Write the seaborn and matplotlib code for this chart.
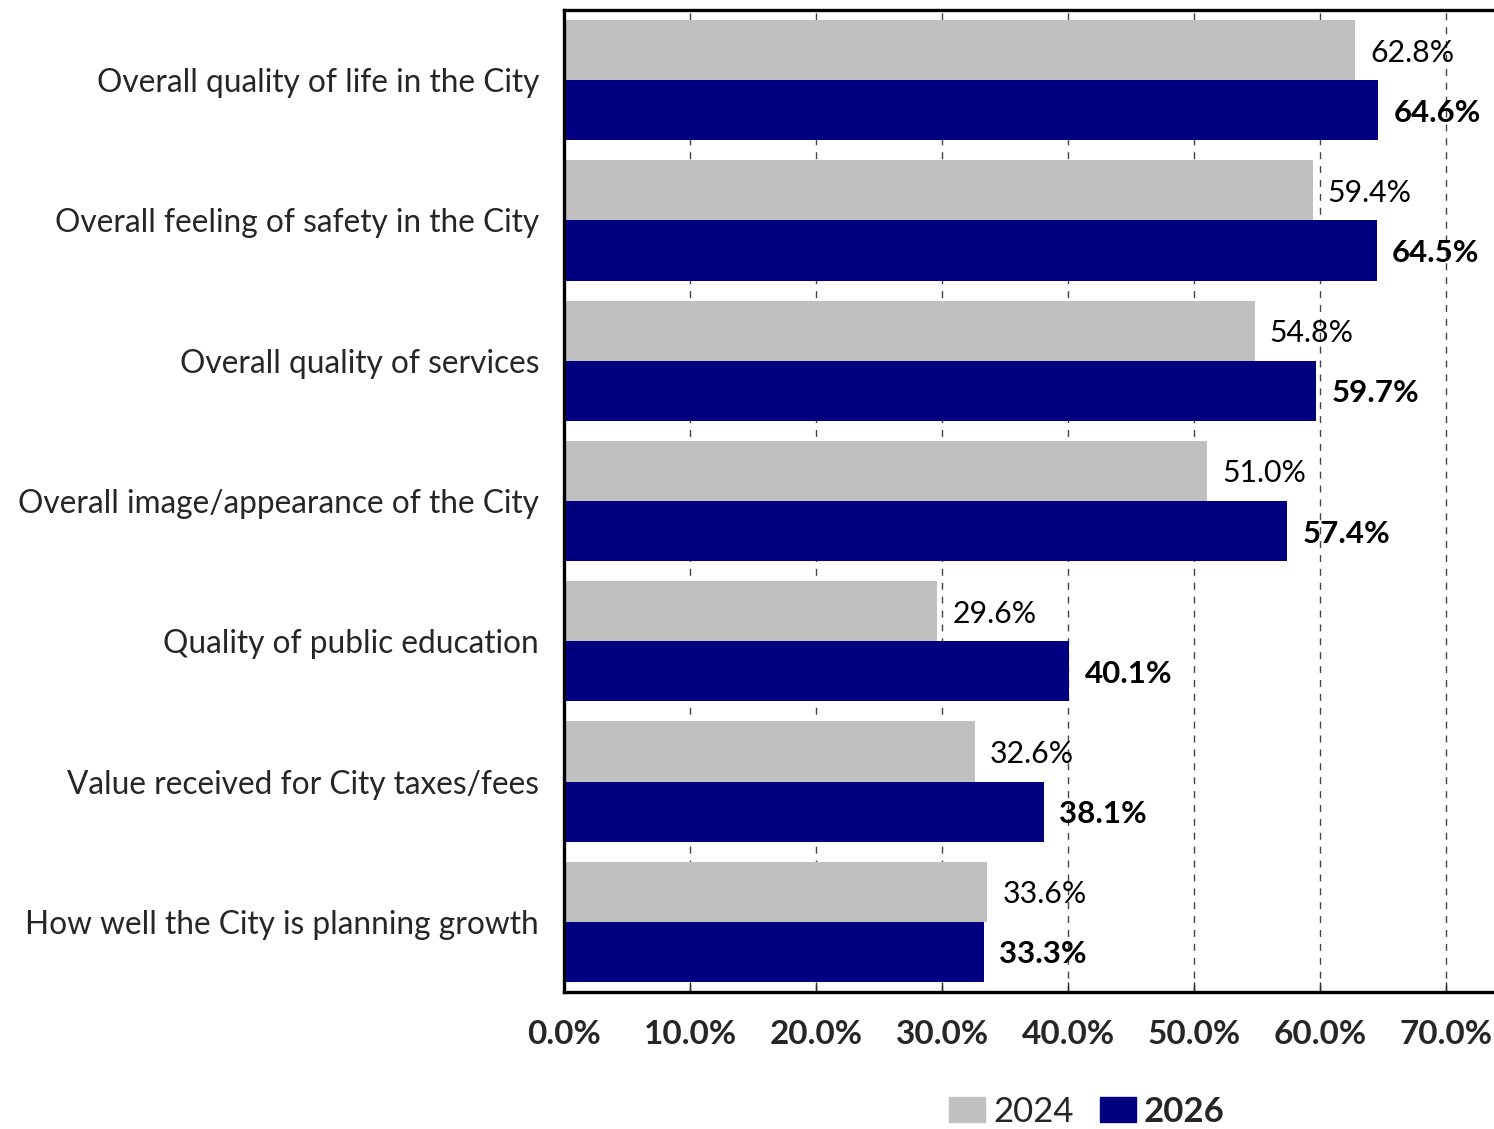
import matplotlib
matplotlib.use("Agg")
import matplotlib.pyplot as plt
import matplotlib.ticker as mticker
import pandas as pd
import seaborn as sns

# Datos
items = [
    "Overall quality of life in the City",
    "Overall feeling of safety in the City",
    "Overall quality of services",
    "Overall image/appearance of the City",
    "Quality of public education",
    "Value received for City taxes/fees",
    "How well the City is planning growth",
]
valores_2024 = [62.8, 59.4, 54.8, 51.0, 29.6, 32.6, 33.6]
valores_2026 = [64.6, 64.5, 59.7, 57.4, 40.1, 38.1, 33.3]
anios = ["2024", "2026"]
x_ticks = [0, 10, 20, 30, 40, 50, 60, 70]

COLOR_2024 = "#C0C0C0"
COLOR_2026 = "#000080"

sns.set_theme(style="white")
plt.rcParams["font.family"] = ["Lato", "DejaVu Sans"]

df = pd.DataFrame({
    "item": items * 2,
    "valor": valores_2024 + valores_2026,
    "anio": [anios[0]] * len(items) + [anios[1]] * len(items),
})

fig = plt.figure(figsize=(14.94, 11.29), dpi=100)
ax = fig.add_axes([564 / 1494, 1 - 992 / 1129, 930 / 1494, 982 / 1129])

sns.barplot(data=df, y="item", x="valor", hue="anio", order=items,
            hue_order=anios, palette=[COLOR_2024, COLOR_2026],
            orient="h", width=0.857, gap=0, dodge=True, saturation=1,
            linewidth=0, legend=False, ax=ax)

# Etiquetas de valor
for cont, negrita in zip(ax.containers, [False, True]):
    etiquetas = ax.bar_label(cont, labels=[f"{v:.1f}%" for v in cont.datavalues],
                             padding=11, fontsize=22.5 if negrita else 21.8,
                             fontweight="bold" if negrita else "normal", color="black")
    for t in etiquetas:
        t.set_verticalalignment("center_baseline")

ax.set_xlim(0, 73.8)
ax.set_ylim(6.5, -0.5)
ax.set_xticks(x_ticks)
ax.xaxis.set_major_formatter(mticker.FuncFormatter(lambda x, _: f"{x:.1f}%"))
ax.set_xlabel("")
ax.set_ylabel("")

ax.set_axisbelow(True)
ax.xaxis.grid(True, linestyle=(0, (5, 5)), color="#444444", linewidth=1)
ax.yaxis.grid(False)

for lado in ["left", "bottom", "top"]:
    ax.spines[lado].set_visible(True)
    ax.spines[lado].set_linewidth(2.4)
    ax.spines[lado].set_color("black")
ax.spines["right"].set_visible(False)

ax.tick_params(axis="x", direction="in", length=7, width=1, pad=20,
               labelsize=24, bottom=True, top=False)
for t in ax.get_xticklabels():
    t.set_fontweight("bold")
ax.tick_params(axis="y", length=0, pad=18, labelsize=22.8)

# Leyenda
handles = [plt.Rectangle((0, 0), 1, 1, color=c) for c in [COLOR_2024, COLOR_2026]]
leg = fig.legend(handles, anios, loc="center", bbox_to_anchor=(1087 / 1494, 1 - 1112 / 1129),
                 ncol=2, frameon=False, fontsize=25, handlelength=1.04, handleheight=0.72,
                 handletextpad=0.23, columnspacing=0.75)
leg.get_texts()[1].set_fontweight("bold")

fig.savefig("out.png", dpi=100)
plt.close(fig)
